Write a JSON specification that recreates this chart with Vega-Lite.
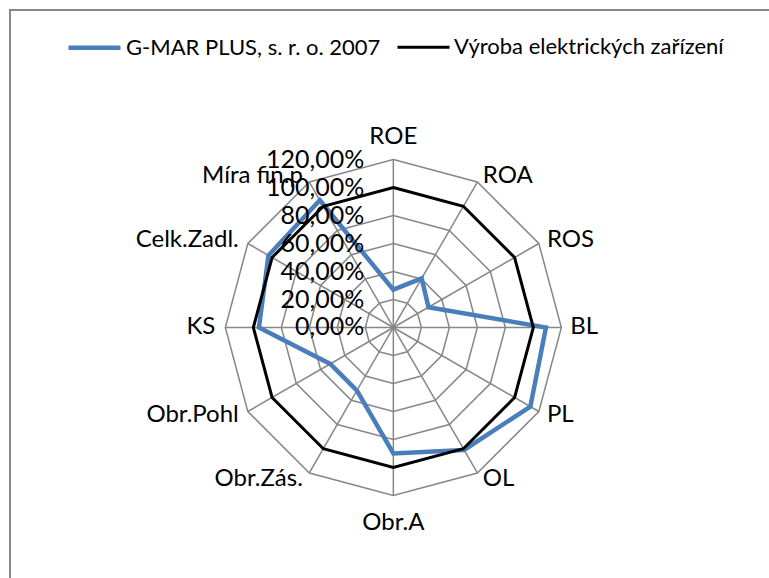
{
  "$schema": "https://vega.github.io/schema/vega-lite/v6.json",
  "width": 800,
  "height": 600,
  "autosize": "none",
  "padding": {"left": 10, "top": 10, "right": 0, "bottom": 0},
  "background": "white",
  "config": {
    "view": {"stroke": "#898989", "strokeWidth": 2},
    "font": "Lato",
    "text": {"font": "Lato", "fontSize": 24, "fill": "#000000"}
  },
  "datasets": {
    "series": [
      {"cat": "ROE", "idx": 0, "series": "G-MAR PLUS, s. r. o. 2007", "value": 0.27},
      {"cat": "ROA", "idx": 1, "series": "G-MAR PLUS, s. r. o. 2007", "value": 0.405},
      {"cat": "ROS", "idx": 2, "series": "G-MAR PLUS, s. r. o. 2007", "value": 0.29},
      {"cat": "BL", "idx": 3, "series": "G-MAR PLUS, s. r. o. 2007", "value": 1.09},
      {"cat": "PL", "idx": 4, "series": "G-MAR PLUS, s. r. o. 2007", "value": 1.13},
      {"cat": "OL", "idx": 5, "series": "G-MAR PLUS, s. r. o. 2007", "value": 1.01},
      {"cat": "Obr.A", "idx": 6, "series": "G-MAR PLUS, s. r. o. 2007", "value": 0.9},
      {"cat": "Obr.Zás.", "idx": 7, "series": "G-MAR PLUS, s. r. o. 2007", "value": 0.52},
      {"cat": "Obr.Pohl", "idx": 8, "series": "G-MAR PLUS, s. r. o. 2007", "value": 0.52},
      {"cat": "KS", "idx": 9, "series": "G-MAR PLUS, s. r. o. 2007", "value": 0.96},
      {"cat": "Celk.Zadl.", "idx": 10, "series": "G-MAR PLUS, s. r. o. 2007", "value": 1.03},
      {"cat": "Míra fin.p", "idx": 11, "series": "G-MAR PLUS, s. r. o. 2007", "value": 1.05},
      {"cat": "ROE", "idx": 0, "series": "Výroba elektrických zařízení", "value": 1.0},
      {"cat": "ROA", "idx": 1, "series": "Výroba elektrických zařízení", "value": 1.0},
      {"cat": "ROS", "idx": 2, "series": "Výroba elektrických zařízení", "value": 1.0},
      {"cat": "BL", "idx": 3, "series": "Výroba elektrických zařízení", "value": 1.0},
      {"cat": "PL", "idx": 4, "series": "Výroba elektrických zařízení", "value": 1.0},
      {"cat": "OL", "idx": 5, "series": "Výroba elektrických zařízení", "value": 1.0},
      {"cat": "Obr.A", "idx": 6, "series": "Výroba elektrických zařízení", "value": 1.0},
      {"cat": "Obr.Zás.", "idx": 7, "series": "Výroba elektrických zařízení", "value": 1.0},
      {"cat": "Obr.Pohl", "idx": 8, "series": "Výroba elektrických zařízení", "value": 1.0},
      {"cat": "KS", "idx": 9, "series": "Výroba elektrických zařízení", "value": 1.0},
      {"cat": "Celk.Zadl.", "idx": 10, "series": "Výroba elektrických zařízení", "value": 1.0},
      {"cat": "Míra fin.p", "idx": 11, "series": "Výroba elektrických zařízení", "value": 1.0}
    ],
    "cats": [
      {"cat": "ROE", "idx": 0},
      {"cat": "ROA", "idx": 1},
      {"cat": "ROS", "idx": 2},
      {"cat": "BL", "idx": 3},
      {"cat": "PL", "idx": 4},
      {"cat": "OL", "idx": 5},
      {"cat": "Obr.A", "idx": 6},
      {"cat": "Obr.Zás.", "idx": 7},
      {"cat": "Obr.Pohl", "idx": 8},
      {"cat": "KS", "idx": 9},
      {"cat": "Celk.Zadl.", "idx": 10},
      {"cat": "Míra fin.p", "idx": 11}
    ],
    "levels": [
      {"level": 0, "label": "0,00%"},
      {"level": 0.2, "label": "20,00%"},
      {"level": 0.4, "label": "40,00%"},
      {"level": 0.6, "label": "60,00%"},
      {"level": 0.8, "label": "80,00%"},
      {"level": 1.0, "label": "100,00%"},
      {"level": 1.2, "label": "120,00%"}
    ]
  },
  "layer": [
    {
      "data": {"name": "cats"},
      "transform": [
        {"calculate": "0", "as": "ox"},
        {"calculate": "1.2*sin(datum.idx*PI/6)", "as": "ex"},
        {"calculate": "1.2*cos(datum.idx*PI/6)", "as": "ey"}
      ],
      "mark": {"type": "rule", "stroke": "#878787", "strokeWidth": 1.5},
      "encoding": {
        "x": {"field": "ox", "type": "quantitative", "scale": {"domain": [-2.738, 2.976], "nice": false, "zero": false}, "axis": null},
        "y": {"field": "ox", "type": "quantitative", "scale": {"domain": [-2.018, 2.268], "nice": false, "zero": false}, "axis": null},
        "x2": {"field": "ex"},
        "y2": {"field": "ey"}
      }
    },
    {
      "data": {"name": "cats"},
      "transform": [
        {"calculate": "[0.2,0.4,0.6,0.8,1.0,1.2]", "as": "lv"},
        {"flatten": ["lv"]},
        {"calculate": "datum.lv*sin(datum.idx*PI/6)", "as": "gx"},
        {"calculate": "datum.lv*cos(datum.idx*PI/6)", "as": "gy"}
      ],
      "mark": {"type": "line", "stroke": "#878787", "strokeWidth": 1.5, "interpolate": "linear-closed"},
      "encoding": {
        "x": {"field": "gx", "type": "quantitative", "scale": {"domain": [-2.738, 2.976], "nice": false, "zero": false}, "axis": null},
        "y": {"field": "gy", "type": "quantitative", "scale": {"domain": [-2.018, 2.268], "nice": false, "zero": false}, "axis": null},
        "detail": {"field": "lv", "type": "nominal"},
        "order": {"field": "idx", "type": "quantitative"}
      }
    },
    {
      "data": {"name": "series"},
      "transform": [
        {"calculate": "datum.value*sin(datum.idx*PI/6)", "as": "px"},
        {"calculate": "datum.value*cos(datum.idx*PI/6)", "as": "py"}
      ],
      "mark": {"type": "line", "interpolate": "linear-closed", "strokeJoin": "miter", "strokeCap": "round"},
      "encoding": {
        "x": {"field": "px", "type": "quantitative", "scale": {"domain": [-2.738, 2.976], "nice": false, "zero": false}, "axis": null},
        "y": {"field": "py", "type": "quantitative", "scale": {"domain": [-2.018, 2.268], "nice": false, "zero": false}, "axis": null},
        "order": {"field": "idx", "type": "quantitative"},
        "color": {
          "field": "series",
          "type": "nominal",
          "scale": {"domain": ["G-MAR PLUS, s. r. o. 2007", "Výroba elektrických zařízení"], "range": ["#4a7ebb", "#000000"]},
          "legend": {
            "title": null,
            "orient": "none",
            "legendX": 56,
            "legendY": 9,
            "direction": "horizontal",
            "symbolType": "stroke",
            "symbolSize": 2704,
            "labelFont": "Lato",
            "labelFontSize": 22,
            "labelColor": "#000000",
            "labelOffset": 3,
            "columnPadding": 10,
            "padding": 0,
            "labelLimit": 400
          }
        },
        "strokeWidth": {
          "field": "series",
          "type": "nominal",
          "scale": {"domain": ["G-MAR PLUS, s. r. o. 2007", "Výroba elektrických zařízení"], "range": [4.5, 3]},
          "legend": null
        }
      }
    },
    {
      "data": {"name": "levels"},
      "transform": [
        {"calculate": "0", "as": "ox"}
      ],
      "mark": {"type": "text", "align": "right", "baseline": "middle", "dx": -29, "fontSize": 25},
      "encoding": {
        "x": {"field": "ox", "type": "quantitative", "scale": {"domain": [-2.738, 2.976], "nice": false, "zero": false}, "axis": null},
        "y": {"field": "level", "type": "quantitative", "scale": {"domain": [-2.018, 2.268], "nice": false, "zero": false}, "axis": null},
        "text": {"field": "label", "type": "nominal"}
      }
    },
    {
      "data": {"name": "cats"},
      "transform": [
        {"filter": "datum.idx >= 1 && datum.idx <= 5"},
        {"calculate": "1.25*sin(datum.idx*PI/6)", "as": "lx"},
        {"calculate": "1.25*cos(datum.idx*PI/6)", "as": "ly"}
      ],
      "mark": {"type": "text", "align": "left", "baseline": "middle", "dx": 2},
      "encoding": {
        "x": {"field": "lx", "type": "quantitative", "scale": {"domain": [-2.738, 2.976], "nice": false, "zero": false}, "axis": null},
        "y": {"field": "ly", "type": "quantitative", "scale": {"domain": [-2.018, 2.268], "nice": false, "zero": false}, "axis": null},
        "text": {"field": "cat", "type": "nominal"}
      }
    },
    {
      "data": {"name": "cats"},
      "transform": [
        {"filter": "datum.idx >= 7"},
        {"calculate": "1.25*sin(datum.idx*PI/6)", "as": "lx"},
        {"calculate": "1.25*cos(datum.idx*PI/6)", "as": "ly"}
      ],
      "mark": {"type": "text", "align": "right", "baseline": "middle", "dx": -3},
      "encoding": {
        "x": {"field": "lx", "type": "quantitative", "scale": {"domain": [-2.738, 2.976], "nice": false, "zero": false}, "axis": null},
        "y": {"field": "ly", "type": "quantitative", "scale": {"domain": [-2.018, 2.268], "nice": false, "zero": false}, "axis": null},
        "text": {"field": "cat", "type": "nominal"}
      }
    },
    {
      "data": {"name": "cats"},
      "transform": [
        {"filter": "datum.idx == 0"},
        {"calculate": "0", "as": "lx"},
        {"calculate": "1.2", "as": "ly"}
      ],
      "mark": {"type": "text", "align": "center", "baseline": "alphabetic", "dy": -16},
      "encoding": {
        "x": {"field": "lx", "type": "quantitative", "scale": {"domain": [-2.738, 2.976], "nice": false, "zero": false}, "axis": null},
        "y": {"field": "ly", "type": "quantitative", "scale": {"domain": [-2.018, 2.268], "nice": false, "zero": false}, "axis": null},
        "text": {"field": "cat", "type": "nominal"}
      }
    },
    {
      "data": {"name": "cats"},
      "transform": [
        {"filter": "datum.idx == 6"},
        {"calculate": "0", "as": "lx"},
        {"calculate": "-1.2", "as": "ly"}
      ],
      "mark": {"type": "text", "align": "center", "baseline": "top", "dy": 16},
      "encoding": {
        "x": {"field": "lx", "type": "quantitative", "scale": {"domain": [-2.738, 2.976], "nice": false, "zero": false}, "axis": null},
        "y": {"field": "ly", "type": "quantitative", "scale": {"domain": [-2.018, 2.268], "nice": false, "zero": false}, "axis": null},
        "text": {"field": "cat", "type": "nominal"}
      }
    }
  ]
}
